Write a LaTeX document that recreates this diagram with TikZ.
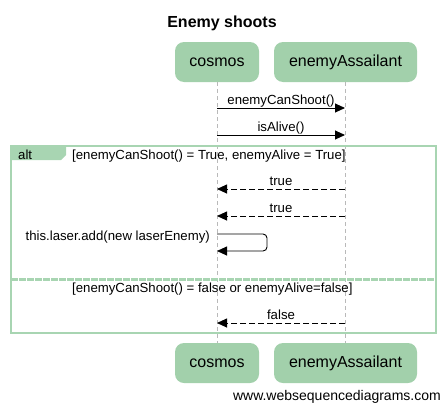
\documentclass[tikz,border=0pt]{standalone}
\usepackage{fontspec}
\setmainfont{Liberation Sans}
\usetikzlibrary{arrows.meta}
\definecolor{boxgreen}{HTML}{A2D0AB}
\definecolor{framegreen}{HTML}{A8D5B2}
\begin{document}
\begin{tikzpicture}[x=1pt,y=-1pt,
  part/.style={rounded corners=9pt, fill=boxgreen, minimum height=40pt, inner sep=0pt,
    font=\fontsize{16}{18}\selectfont},
  life/.style={draw=gray!55, line width=0.8pt, dash pattern=on 4pt off 3pt},
  msg/.style={draw=black, line width=0.9pt, -{Triangle[length=10pt,width=9pt]}},
  ret/.style={msg, dash pattern=on 6pt off 3pt},
  lbl/.style={anchor=base, inner sep=0pt, font=\fontsize{13.2}{15}\selectfont},
  frame/.style={draw=framegreen, line width=2pt}
]
\useasboundingbox (0,0) rectangle (444,407);
\node[anchor=base, font=\fontsize{16}{18}\selectfont\bfseries] (title) at (222,27) {Enemy shoots};

\node[part, minimum width=84pt] (c1) at (217,62) {cosmos};
\node[part, minimum width=143pt] (e1) at (345.5,62) {enemyAssailant};
\node[part, minimum width=84pt] (c2) at (217,363) {cosmos};
\node[part, minimum width=143pt] (e2) at (345.5,363) {enemyAssailant};

\draw[life] (c1.south) -- (c2.north);
\draw[life] (e1.south) -- (e2.north);

% alt frame
\draw[frame] (11,146) rectangle (436,333);
\fill[framegreen] (11,146) -- (66,146) -- (66,155) -- (61,160) -- (11,160) -- cycle;
\node[lbl, anchor=base west] (alt) at (18,159) {alt};
\node[lbl, anchor=base west] (cond1) at (72,159) {[enemyCanShoot() = True, enemyAlive = True]};
\draw[framegreen, line width=3pt, dash pattern=on 7pt off 1pt] (11,279) -- (436,279);
\node[lbl, anchor=base west] (cond2) at (72,292) {[enemyCanShoot() = false or enemyAlive=false]};

% messages
\coordinate (a1) at (217,108); \coordinate (b1) at (345,108);
\coordinate (a2) at (217,135); \coordinate (b2) at (345,135);
\coordinate (a3) at (217,189); \coordinate (b3) at (345,189);
\coordinate (a4) at (217,216); \coordinate (b4) at (345,216);
\coordinate (s1) at (217,234); \coordinate (s2) at (217,251);
\coordinate (a5) at (217,323); \coordinate (b5) at (345,323);

\draw[msg] (a1) -- (b1);
\node[lbl] (l1) at (281,104) {enemyCanShoot()};
\draw[msg] (a2) -- (b2);
\node[lbl] (l2) at (281,131) {isAlive()};
\draw[ret] (b3) -- (a3);
\node[lbl] (l3) at (281,185) {true};
\draw[ret] (b4) -- (a4);
\node[lbl] (l4) at (281,212) {true};
\draw[msg, rounded corners=4pt] (s1) -- (267,234) -- (267,251) -- (s2);
\node[lbl, anchor=base east] (l5) at (210,240) {this.laser.add(new laserEnemy)};
\draw[ret] (b5) -- (a5);
\node[lbl] (l6) at (281,319) {false};

\node[anchor=base east, inner sep=0pt, font=\fontsize{14}{16}\selectfont] (wm) at (441,400) {www.websequencediagrams.com};
\end{tikzpicture}
\end{document}
